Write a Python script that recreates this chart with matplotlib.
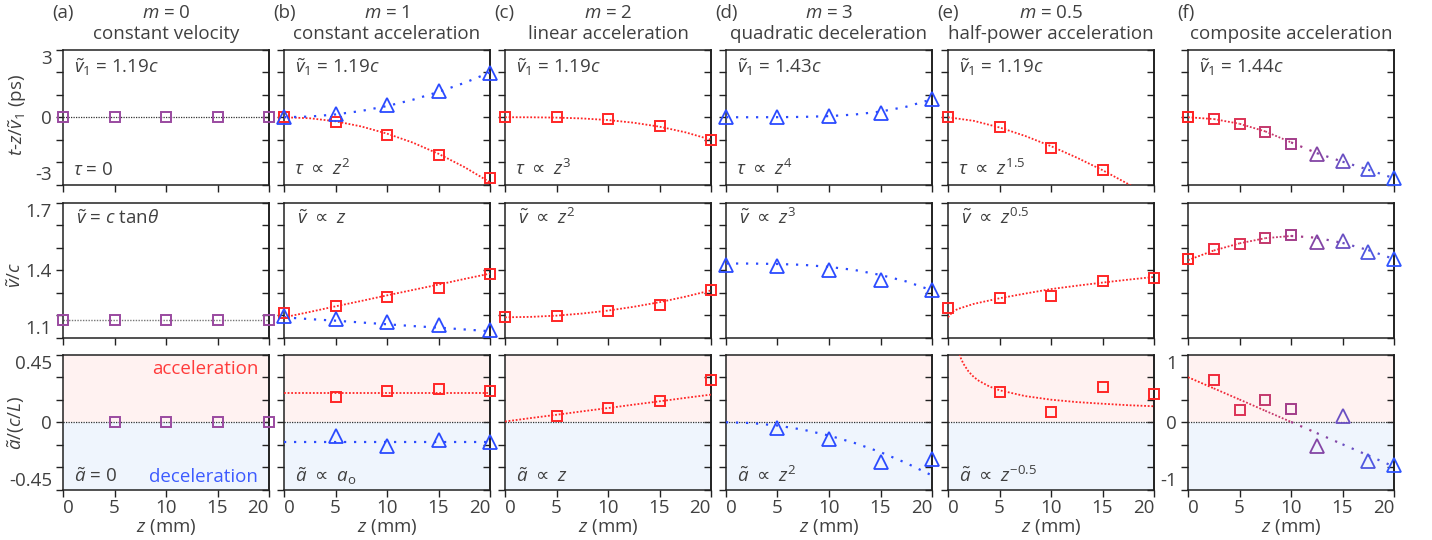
import numpy as np
import matplotlib
matplotlib.use("Agg")
import matplotlib.pyplot as plt
from matplotlib.ticker import NullFormatter

plt.rcParams['font.family'] = ['Open Sans', 'DejaVu Sans']
plt.rcParams['mathtext.fontset'] = 'custom'
plt.rcParams['mathtext.rm'] = 'Open Sans'
plt.rcParams['mathtext.it'] = 'Open Sans:italic'
plt.rcParams['mathtext.sf'] = 'DejaVu Sans'
plt.rcParams['mathtext.fallback'] = 'stixsans'
plt.rcParams['axes.unicode_minus'] = False

# ---- data ----
z_pts = [0, 5, 10, 15, 20]
z_acc = [5, 10, 15, 20]
z_fit = [0, 2.5, 5, 7.5, 10, 12.5, 15, 17.5, 20]
z_comp = [0, 2.5, 5, 7.5, 10, 12.5, 15, 17.5, 20]

# top row: t - z/v1 (ps)
tau_a = [0, 0, 0, 0, 0]
tau_b_acc = [0, -0.2, -0.77, -1.67, -2.73]
tau_b_dec = [0, 0.15, 0.55, 1.18, 1.98]
tau_c = [0, 0, -0.08, -0.38, -1.0]
tau_d = [0, 0, 0.04, 0.21, 0.81]
z_e_top = [0, 5, 10, 15]
tau_e = [0, -0.45, -1.36, -2.36]
tau_f = [0, -0.1, -0.29, -0.64, -1.18, -1.65, -1.96, -2.3, -2.73]

fit_tau_b_acc = [0, -0.045, -0.18, -0.41, -0.73, -1.13, -1.63, -2.22, -2.9]
fit_tau_b_dec = [0, 0.03, 0.125, 0.28, 0.5, 0.78, 1.13, 1.53, 2.0]
fit_tau_c = [0, -0.002, -0.016, -0.053, -0.125, -0.244, -0.42, -0.67, -1.0]
fit_tau_d = [0, 0.0002, 0.003, 0.016, 0.05, 0.122, 0.253, 0.469, 0.8]
fit_tau_e = [0, -0.16, -0.455, -0.836, -1.29, -1.80, -2.36, -2.98, -3.64]
fit_tau_f = [0, -0.08, -0.29, -0.63, -1.12, -1.6, -1.98, -2.34, -2.72]

# middle row: v/c
v_a = [1.176, 1.176, 1.176, 1.176, 1.176]
v_b_acc = [1.209, 1.242, 1.28, 1.32, 1.385]
v_b_dec = [1.194, 1.182, 1.167, 1.155, 1.133]
v_c = [1.191, 1.198, 1.218, 1.246, 1.31]
v_d = [1.425, 1.419, 1.403, 1.355, 1.313]
v_e = [1.231, 1.275, 1.287, 1.351, 1.366]
v_f = [1.448, 1.493, 1.515, 1.545, 1.557, 1.525, 1.53, 1.482, 1.448]

fit_v_b_acc = [1.19, 1.214, 1.239, 1.263, 1.288, 1.312, 1.336, 1.361, 1.385]
fit_v_b_dec = [1.19, 1.182, 1.175, 1.167, 1.159, 1.151, 1.144, 1.136, 1.128]
fit_v_c = [1.19, 1.192, 1.1975, 1.207, 1.22, 1.237, 1.2575, 1.282, 1.31]
fit_v_d = [1.43, 1.4298, 1.428, 1.424, 1.415, 1.401, 1.379, 1.35, 1.31]
z_fit_v_e = [0, 0.5, 1, 2.5, 5, 7.5, 10, 12.5, 15, 17.5, 20]
fit_v_e = [1.19, 1.217, 1.228, 1.25, 1.275, 1.296, 1.316, 1.331, 1.345, 1.358, 1.37]
fit_v_f = [1.445, 1.488, 1.52, 1.543, 1.553, 1.545, 1.522, 1.49, 1.45]

# bottom row: a/(c/L)
a_a = [0, 0, 0, 0]
a_b_acc = [0.17, 0.21, 0.22, 0.21]
a_b_dec = [-0.092, -0.161, -0.116, -0.132]
a_c = [0.043, 0.096, 0.139, 0.28]
a_d = [-0.036, -0.11, -0.269, -0.244]
a_e = [0.2, 0.067, 0.237, 0.19]
a_f = [0.627, 0.179, 0.333, 0.199, -0.358, 0.09, -0.577, -0.642]

z_fit_flat = [0, 20]
fit_a_b_acc = [0.193, 0.193]
fit_a_b_dec = [-0.132, -0.132]
fit_a_c = [0.005, 0.028, 0.05, 0.073, 0.095, 0.118, 0.14, 0.163, 0.185]
fit_a_d = [0, -0.0056, -0.022, -0.05, -0.089, -0.139, -0.2, -0.273, -0.356]
z_fit_a_e = [1, 1.25, 1.5, 2, 2.5, 3, 4, 5, 7.5, 10, 12.5, 15, 17.5, 20]
fit_a_e = [0.479, 0.428, 0.391, 0.339, 0.303, 0.277, 0.24, 0.214, 0.175,
           0.151, 0.135, 0.124, 0.114, 0.107]
fit_a_f = [0.67, 0.504, 0.338, 0.171, 0.005, -0.161, -0.328, -0.494, -0.66]

PROP = r'$\ \mathsf{\propto}\ $'
panel_letters = ['(a)', '(b)', '(c)', '(d)', '(e)', '(f)']
panel_m = ['$m$ = 0', '$m$ = 1', '$m$ = 2', '$m$ = 3', '$m$ = 0.5', '']
panel_names = ['constant velocity', 'constant acceleration', 'linear acceleration',
               'quadratic deceleration', 'half-power acceleration', 'composite acceleration']
v1_labels = [r'$\tilde{v}_1$ = 1.19$c$', r'$\tilde{v}_1$ = 1.19$c$', r'$\tilde{v}_1$ = 1.19$c$',
             r'$\tilde{v}_1$ = 1.43$c$', r'$\tilde{v}_1$ = 1.19$c$', r'$\tilde{v}_1$ = 1.44$c$']
tau_labels = [r'$\tau$ = 0', r'$\tau$' + PROP + r'$z^{2}$', r'$\tau$' + PROP + r'$z^{3}$',
              r'$\tau$' + PROP + r'$z^{4}$', r'$\tau$' + PROP + r'$z^{1.5}$', '']
v_labels = [r'$\tilde{v}$ = $c$ tan$\theta$', r'$\tilde{v}$' + PROP + r'$z$',
            r'$\tilde{v}$' + PROP + r'$z^{2}$', r'$\tilde{v}$' + PROP + r'$z^{3}$',
            r'$\tilde{v}$' + PROP + r'$z^{0.5}$', '']
a_labels = [r'$\tilde{a}$ = 0', r'$\tilde{a}$' + PROP + r'$a_\mathrm{o}$',
            r'$\tilde{a}$' + PROP + r'$z$', r'$\tilde{a}$' + PROP + r'$z^{2}$',
            r'$\tilde{a}$' + PROP + r'$z^{-0.5}$', '']

# ---- style ----
RED = '#ff2626'
BLUE = '#2b4bff'
PURPLE = '#9a4aa0'
TXT = '#404040'
PINK_BG = '#fff2f1'
BLUE_BG = '#eff5fd'
comp_colors = ['#ff1f1f', '#f02a3c', '#dc3255', '#c3386d', '#a33d8a',
               '#8345a5', '#6a4fc2', '#4f57e0', '#2f55ff']
FS = 13.5

W, H = 1432, 540
fig = plt.figure(figsize=(W / 100, H / 100), dpi=100)

col_left = [63, 284, 505, 726, 948, 1188]
row_top = [50, 203, 355]
aw, ah = 206, 134.5

red_ls = (0, (1, 1))
blue_ls = (0, (1, 3.5))


def make_axes(x0, y0):
    return fig.add_axes([x0 / W, 1 - (y0 + ah) / H, aw / W, ah / H])


def style(ax, yticks, ylabels, show_x):
    ax.set_xlim(0, 20)
    ax.set_ylim(yticks[0], yticks[-1])
    ax.set_xticks(z_pts)
    ax.set_yticks(yticks)
    if ylabels is None:
        ax.yaxis.set_major_formatter(NullFormatter())
    else:
        ax.set_yticklabels(ylabels)
        ylab = ax.get_yticklabels()
        ylab[0].set_va('bottom')
        ylab[-1].set_va('top')
    if show_x:
        xlab = ax.get_xticklabels()
        xlab[0].set_ha('left')
        xlab[-1].set_ha('right')
    else:
        ax.xaxis.set_major_formatter(NullFormatter())
    ax.tick_params(direction='out', length=5, width=1.0, colors='#222222',
                   labelcolor=TXT, labelsize=FS, pad=2)
    ax.tick_params(axis='y', pad=3)
    for s in ax.spines.values():
        s.set_linewidth(1.1)
        s.set_color('#222222')
    sec = ax.secondary_yaxis('right')
    sec.set_yticks(yticks)
    sec.yaxis.set_major_formatter(NullFormatter())
    sec.tick_params(direction='in', length=5, width=1.0, colors='#222222')
    sec.spines['right'].set_linewidth(1.1)
    if show_x:
        ax.set_xlabel('$z$ (mm)', fontsize=FS, color=TXT, labelpad=0)


def pts(ax, x, y, color, marker='s'):
    if marker == 's':
        ax.plot(x, y, ls='none', marker='s', ms=7, mfc='none', mec=color, mew=1.4,
                clip_on=False, zorder=5)
    else:
        ax.plot(x, y, ls='none', marker='^', ms=9.5, mfc='none', mec=color, mew=1.3,
                clip_on=False, zorder=5)


def fit(ax, x, y, color, ls, lw=1.3):
    ax.plot(x, y, color=color, ls=ls, lw=lw, zorder=3)


def label(ax, x, y, s, **kw):
    kw.setdefault('color', TXT)
    ax.text(x, y, s, transform=ax.transAxes, fontsize=FS, **kw)


top_ticks = [-3, -2, -1, 0, 1, 2, 3]
top_lbls = ['-3', '', '', '0', '', '', '3']
mid_ticks = [1.1, 1.2, 1.3, 1.4, 1.5, 1.6, 1.7]
mid_lbls = ['1.1', '', '', '1.4', '', '', '1.7']
bot_ticks = [-0.45, -0.3, -0.15, 0, 0.15, 0.3, 0.45]
bot_lbls = ['-0.45', '', '', '0', '', '', '0.45']
bot_ticks_f = [-1, -2 / 3, -1 / 3, 0, 1 / 3, 2 / 3, 1]
bot_lbls_f = ['-1', '', '', '0', '', '', '1']

axes = []
for c in range(6):
    col = []
    for r in range(3):
        ax = make_axes(col_left[c], row_top[r])
        col.append(ax)
    axes.append(col)

for c in range(6):
    at, am, ab = axes[c]
    style(at, top_ticks, top_lbls if c == 0 else None, False)
    style(am, mid_ticks, mid_lbls if c == 0 else None, False)
    if c == 5:
        style(ab, bot_ticks_f, bot_lbls_f, True)
    else:
        style(ab, bot_ticks, bot_lbls if c == 0 else None, True)
    ylo, yhi = ab.get_ylim()
    ab.axhspan(0, yhi, color=PINK_BG, zorder=0, lw=0)
    ab.axhspan(ylo, 0, color=BLUE_BG, zorder=0, lw=0)
    ab.axhline(0, color='#333333', lw=0.9, ls=(0, (1, 1)), zorder=1)

    # titles
    label(at, -0.053, 1.275, panel_letters[c], ha='left', va='center')
    label(at, 0.5, 1.275, panel_m[c], ha='center', va='center')
    label(at, 0.5, 1.12, panel_names[c], ha='center', va='center')
    # annotations
    label(at, 0.055, 0.83, v1_labels[c], ha='left', va='baseline')
    label(at, 0.05, 0.07, tau_labels[c], ha='left', va='baseline')
    label(am, 0.063, 0.845, v_labels[c], ha='left', va='baseline')
    label(ab, 0.053, 0.055, a_labels[c], ha='left', va='baseline')

# (a) constant velocity
at, am, ab = axes[0]
at.plot(z_pts, tau_a, color='#333333', lw=0.9, ls=(0, (1, 1)), zorder=2)
pts(at, z_pts, tau_a, PURPLE)
am.plot(z_pts, v_a, color='#777777', lw=1.0, ls=(0, (1, 1)), zorder=2)
pts(am, z_pts, v_a, PURPLE)
pts(ab, z_acc, a_a, PURPLE)
label(ab, 0.947, 0.86, 'acceleration', ha='right', va='baseline', color='#ff3b3b')
label(ab, 0.947, 0.055, 'deceleration', ha='right', va='baseline', color='#3d5bff')

# (b) constant acceleration / deceleration
at, am, ab = axes[1]
fit(at, z_fit, fit_tau_b_acc, RED, red_ls)
fit(at, z_fit, fit_tau_b_dec, BLUE, blue_ls, 1.6)
pts(at, z_pts, tau_b_acc, RED)
pts(at, z_pts, tau_b_dec, BLUE, '^')
fit(am, z_fit, fit_v_b_acc, RED, red_ls)
fit(am, z_fit, fit_v_b_dec, BLUE, blue_ls, 1.6)
pts(am, z_pts, v_b_acc, RED)
pts(am, z_pts, v_b_dec, BLUE, '^')
fit(ab, z_fit_flat, fit_a_b_acc, RED, red_ls)
fit(ab, z_fit_flat, fit_a_b_dec, BLUE, blue_ls, 1.6)
pts(ab, z_acc, a_b_acc, RED)
pts(ab, z_acc, a_b_dec, BLUE, '^')

# (c) linear acceleration
at, am, ab = axes[2]
fit(at, z_fit, fit_tau_c, RED, red_ls)
pts(at, z_pts, tau_c, RED)
fit(am, z_fit, fit_v_c, RED, red_ls)
pts(am, z_pts, v_c, RED)
fit(ab, z_fit, fit_a_c, RED, red_ls)
pts(ab, z_acc, a_c, RED)

# (d) quadratic deceleration
at, am, ab = axes[3]
fit(at, z_fit, fit_tau_d, BLUE, blue_ls, 1.6)
pts(at, z_pts, tau_d, BLUE, '^')
fit(am, z_fit, fit_v_d, BLUE, blue_ls, 1.6)
pts(am, z_pts, v_d, BLUE, '^')
fit(ab, z_fit, fit_a_d, BLUE, blue_ls, 1.6)
pts(ab, z_acc, a_d, BLUE, '^')

# (e) half-power acceleration
at, am, ab = axes[4]
fit(at, z_fit, fit_tau_e, RED, red_ls)
pts(at, z_e_top, tau_e, RED)
fit(am, z_fit_v_e, fit_v_e, RED, red_ls)
pts(am, z_pts, v_e, RED)
fit(ab, z_fit_a_e, fit_a_e, RED, red_ls)
pts(ab, z_acc, a_e, RED)

# (f) composite acceleration
at, am, ab = axes[5]
for ax, fy in ((at, fit_tau_f), (am, fit_v_f), (ab, fit_a_f)):
    for i in range(len(z_comp) - 1):
        dense = i < 4
        fit(ax, z_comp[i:i + 2], fy[i:i + 2], comp_colors[i],
            red_ls if dense else blue_ls, 1.3 if dense else 1.6)
for i, zz in enumerate(z_comp):
    mk = 's' if zz <= 10 else '^'
    pts(at, [zz], [tau_f[i]], comp_colors[i], mk)
    pts(am, [zz], [v_f[i]], comp_colors[i], mk)
    if i > 0:
        pts(ab, [zz], [a_f[i - 1]], comp_colors[i], mk)

# y labels
fig.text(18 / W, 1 - 115 / H, r'$t$-$z$/$\tilde{v}_1$ (ps)', rotation=90,
         ha='center', va='center', fontsize=FS, color=TXT)
fig.text(16 / W, 1 - 275 / H, r'$\tilde{v}$/$c$', rotation=90,
         ha='center', va='center', fontsize=FS, color=TXT)
fig.text(16 / W, 1 - 423 / H, r'$\tilde{a}$/($c$/$L$)', rotation=90,
         ha='center', va='center', fontsize=FS, color=TXT)

fig.savefig('out.png', dpi=100)
